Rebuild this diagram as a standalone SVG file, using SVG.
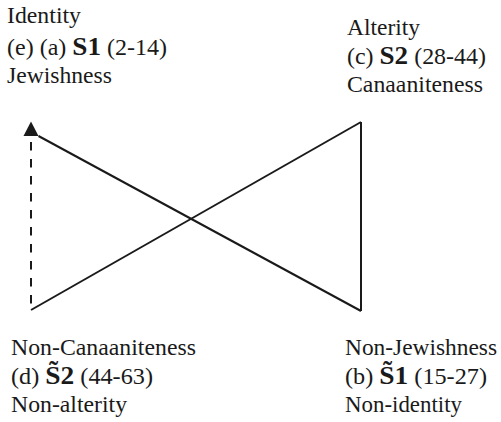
<svg xmlns="http://www.w3.org/2000/svg" width="501" height="422" viewBox="0 0 501 422">
<style>
text{font-family:'Liberation Serif','Times New Roman',serif;font-size:23px;fill:#1a1a1a}
.b{font-weight:bold;font-size:26px}
.ln{stroke:#1a1a1a;stroke-width:2;fill:none}
.dash{stroke-dasharray:8.5 8.5}
</style>
<rect width="501" height="422" fill="#ffffff"/>
<g id="connectors">
<line class="ln dash" x1="31" y1="142" x2="31" y2="310"/>
<polygon points="31,121.5 23.5,136 38.5,136" fill="#1a1a1a"/>
<line class="ln" x1="38.5" y1="136" x2="361" y2="311"/>
<line class="ln" x1="31" y1="310" x2="361" y2="122"/>
<line class="ln" x1="361" y1="122" x2="361" y2="311"/>
</g>
<g id="node-s1">
<text x="7" y="23" textLength="74" lengthAdjust="spacingAndGlyphs">Identity</text>
<text x="7" y="55" textLength="160" lengthAdjust="spacingAndGlyphs">(e) (a) <tspan class="b">S1</tspan> (2-14)</text>
<text x="7" y="83" textLength="105" lengthAdjust="spacingAndGlyphs">Jewishness</text>
</g>
<g id="node-s2">
<text x="347" y="35" textLength="73" lengthAdjust="spacingAndGlyphs">Alterity</text>
<text x="347" y="63.5" textLength="139" lengthAdjust="spacingAndGlyphs">(c) <tspan class="b">S2</tspan> (28-44)</text>
<text x="347" y="92" textLength="136" lengthAdjust="spacingAndGlyphs">Canaaniteness</text>
</g>
<g id="node-not-s2">
<text x="11" y="355" textLength="185" lengthAdjust="spacingAndGlyphs">Non-Canaaniteness</text>
<text x="11" y="383.5" textLength="142" lengthAdjust="spacingAndGlyphs">(d) <tspan class="b">S&#x0303;2</tspan> (44-63)</text>
<text x="11" y="412" textLength="116" lengthAdjust="spacingAndGlyphs">Non-alterity</text>
</g>
<g id="node-not-s1">
<text x="345" y="355" textLength="152" lengthAdjust="spacingAndGlyphs">Non-Jewishness</text>
<text x="345" y="383.5" textLength="142" lengthAdjust="spacingAndGlyphs">(b) <tspan class="b">S&#x0303;1</tspan> (15-27)</text>
<text x="345" y="412" textLength="117" lengthAdjust="spacingAndGlyphs">Non-identity</text>
</g>
</svg>
